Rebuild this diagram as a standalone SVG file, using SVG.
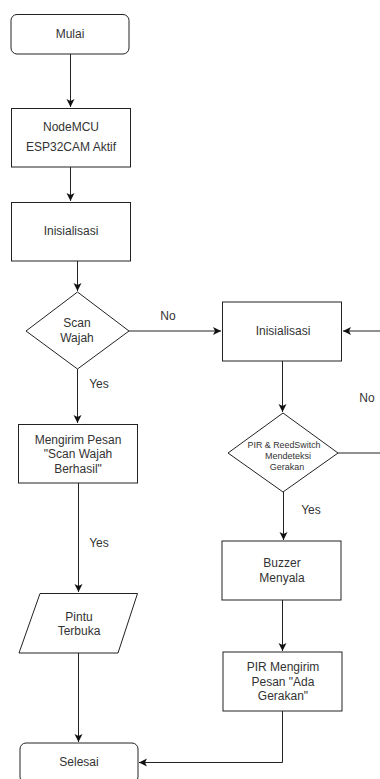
<svg xmlns="http://www.w3.org/2000/svg" width="380" height="779" viewBox="0 0 380 779">
<style>
.n{fill:#fff;stroke:#222;stroke-width:1}
.t{font-family:"Liberation Sans",Arial,sans-serif;font-size:12px;fill:#333;text-anchor:middle}
.s{font-size:9px}
.c{fill:none;stroke:#222;stroke-width:1}
</style>
<defs>
<marker id="a" markerWidth="10" markerHeight="10" refX="8" refY="4" orient="auto" markerUnits="userSpaceOnUse">
<path d="M0,0 L8,4 L0,8 L2,4 Z" fill="#111"/>
</marker>
</defs>
<g id="connectors">
<path class="c" d="M70.5,54 V107" marker-end="url(#a)"/>
<path class="c" d="M70.5,167 V201" marker-end="url(#a)"/>
<path class="c" d="M77.5,261 V291" marker-end="url(#a)"/>
<path class="c" d="M77.5,369 V423" marker-end="url(#a)"/>
<path class="c" d="M78.5,483 V592" marker-end="url(#a)"/>
<path class="c" d="M78.5,653 V742" marker-end="url(#a)"/>
<path class="c" d="M129,331 H221" marker-end="url(#a)"/>
<path class="c" d="M380,331 H343" marker-end="url(#a)"/>
<path class="c" d="M282.5,361 V412" marker-end="url(#a)"/>
<path class="c" d="M338,453 H380"/>
<path class="c" d="M283.5,492 V540" marker-end="url(#a)"/>
<path class="c" d="M282.5,600 V651" marker-end="url(#a)"/>
<path class="c" d="M282.5,711 V762.5 H139" marker-end="url(#a)"/>
<text class="t" x="168" y="320">No</text>
<text class="t" x="99" y="388">Yes</text>
<text class="t" x="99" y="547">Yes</text>
<text class="t" x="367" y="402">No</text>
<text class="t" x="311" y="514">Yes</text>
</g>
<g id="mulai"><rect class="n" x="11" y="14.5" width="118" height="39.5" rx="6"/><text class="t" x="70" y="38">Mulai</text></g>
<g id="nodemcu"><rect class="n" x="11.5" y="108.5" width="119" height="58.5"/><text class="t" x="71" y="131">NodeMCU</text><text class="t" x="71" y="151">ESP32CAM Aktif</text></g>
<g id="init1"><rect class="n" x="11.5" y="202.5" width="119" height="58.5"/><text class="t" x="71" y="235">Inisialisasi</text></g>
<g id="scan"><path class="n" d="M77.5,292 L129,331 L77.5,369 L26,331 Z"/><text class="t" x="77" y="327">Scan</text><text class="t" x="77" y="342">Wajah</text></g>
<g id="kirim"><rect class="n" x="18.5" y="424.5" width="119" height="58.5"/><text class="t" x="78" y="444">Mengirim Pesan</text><text class="t" x="78" y="458">"Scan Wajah</text><text class="t" x="78" y="473">Berhasil"</text></g>
<g id="pintu"><path class="n" d="M40,593.5 L137.5,593.5 L118,653 L19,653 Z"/><text class="t" x="79" y="621">Pintu</text><text class="t" x="79" y="635">Terbuka</text></g>
<g id="selesai"><rect class="n" x="20" y="743" width="118" height="40" rx="6"/><text class="t" x="79" y="766">Selesai</text></g>
<g id="init2"><rect class="n" x="222.5" y="302" width="119" height="59"/><text class="t" x="283" y="335">Inisialisasi</text></g>
<g id="pir"><path class="n" d="M283,413 L338,453 L283,492 L228,453 Z"/><text class="t s" x="284" y="448" textLength="73" lengthAdjust="spacingAndGlyphs">PIR &amp; ReedSwitch</text><text class="t s" x="288" y="459">Mendeteksi</text><text class="t s" x="287" y="470">Gerakan</text></g>
<g id="buzzer"><rect class="n" x="222" y="541" width="119" height="59"/><text class="t" x="282" y="567">Buzzer</text><text class="t" x="282" y="582">Menyala</text></g>
<g id="pirkirim"><rect class="n" x="223" y="652" width="119" height="59"/><text class="t" x="283" y="671">PIR Mengirim</text><text class="t" x="283" y="686">Pesan "Ada</text><text class="t" x="283" y="700">Gerakan"</text></g>
</svg>
